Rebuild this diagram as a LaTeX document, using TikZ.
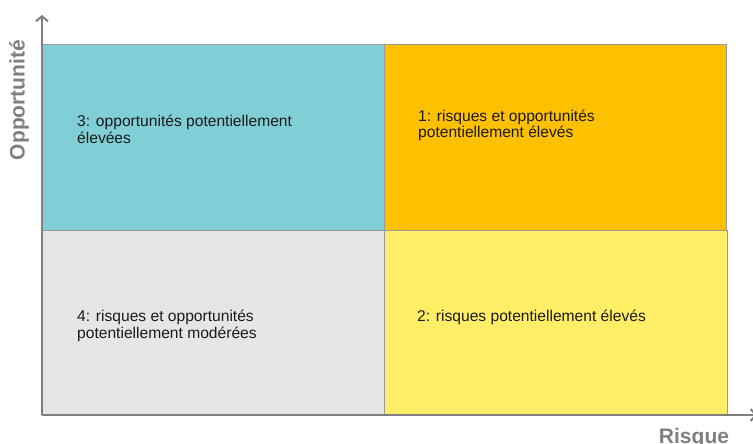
\documentclass[tikz,border=0pt]{standalone}
\usepackage{fontspec}
\setmainfont{Liberation Sans}
\usetikzlibrary{arrows.meta}
\definecolor{cteal}{HTML}{80CFD6}
\definecolor{corange}{HTML}{FFC000}
\definecolor{cyellow}{HTML}{FFEE66}
\definecolor{cgray}{HTML}{E6E6E6}
\definecolor{cborder}{HTML}{999999}
\definecolor{caxis}{HTML}{7F7F7F}
\definecolor{ctext}{HTML}{1A1A1A}
\begin{document}
\begin{tikzpicture}[x=1pt,y=-1pt,
  quad/.style={draw=cborder, line width=1pt},
  qtext/.style={anchor=base west, align=left, inner sep=0pt, text=ctext,
    font=\fontsize{15.6}{16.5}\selectfont},
  axis/.style={draw=caxis, line width=2.5pt, -{Straight Barb[length=5pt,width=12pt,line width=2pt]}},
  axlabel/.style={text=caxis, font=\fontsize{21}{23}\selectfont\bfseries, inner sep=0pt}]
\useasboundingbox (0,0) rectangle (753,444);
\fill[white] (0,0) rectangle (753,444);
% quadrants
\path[quad, fill=cteal] (42,45) rectangle (384,230);
\path[quad, fill=corange] (384,45) rectangle (726,230);
\path[quad, fill=cgray] (42,230) rectangle (384,415);
\path[quad, fill=cyellow] (384,230) rectangle (727,415);
% texts (base anchor = baseline of last line)
\node[qtext] (t3) at (77,143) {3: opportunités potentiellement\\élevées};
\node[qtext] (t1) at (418,138) {1: risques et opportunités\\potentiellement élevés};
\node[qtext] (t4) at (77,338) {4: risques et opportunités\\potentiellement modérées};
\node[qtext] (t2) at (417,321) {2: risques potentiellement élevés};
% axes
\coordinate (o) at (42,415);
\coordinate (ytip) at (42,15);
\coordinate (xtip) at (757,415);
\draw[axis] (o) -- (ytip);
\draw[axis] (o) -- (xtip);
\node[axlabel, rotate=90] (ylab) at (19,100) {Opportunité};
\node[axlabel, anchor=base] (xlab) at (694,443) {Risque};
\end{tikzpicture}
\end{document}
